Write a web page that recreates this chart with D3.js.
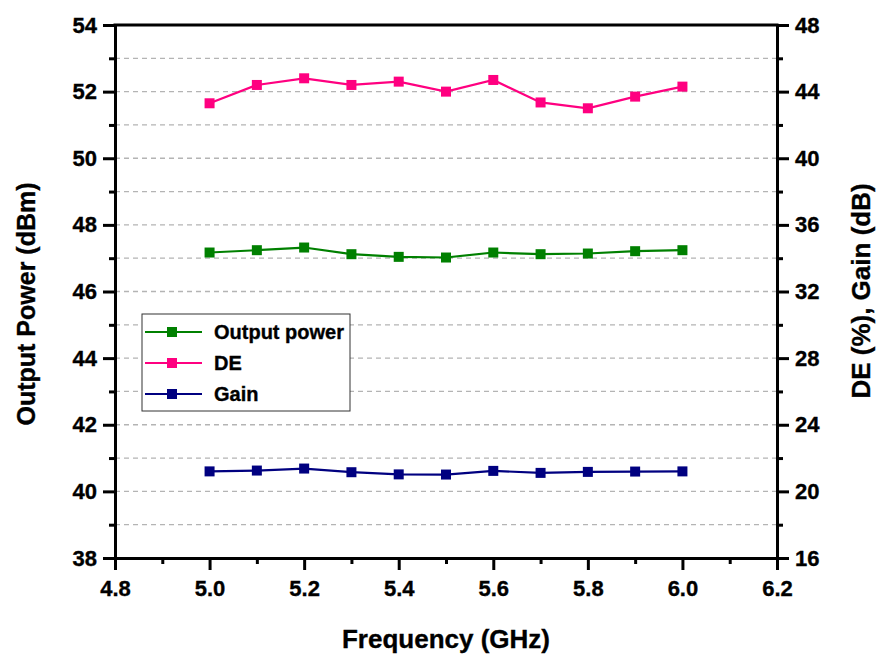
<!DOCTYPE html>
<html lang="en">
<head>
    <meta charset="UTF-8">
    <title>Output Power, DE and Gain vs. Frequency</title>
    <script src="https://d3js.org/d3.v7.min.js"></script>
    <style>
        body { margin: 0; background: white; }
        svg text { font-family: "Liberation Sans", Arial, sans-serif; font-weight: bold; fill: black; stroke: black; stroke-width: 0.35px; }
        .grid line { stroke: #b4b4b4; stroke-width: 1.3px; stroke-dasharray: 5,4; }
        .line { fill: none; stroke-width: 2.2px; }
    </style>
</head>
<body>
<svg id="chart" width="882" height="658"></svg>
<script type="text/javascript">
    var configuration = {
        "left": 115,
        "right": 777,
        "top": 25,
        "bottom": 558,
        "major_tick": 12,
        "minor_tick": 6,
        "marker_size": 10
    };

    // data
    var frequency = [5.0, 5.1, 5.2, 5.3, 5.4, 5.5, 5.6, 5.7, 5.8, 5.9, 6.0];
    var outputPower = [47.17, 47.24, 47.32, 47.12, 47.04, 47.02, 47.17, 47.12, 47.14, 47.21, 47.24];
    var drainEfficiency = [43.3, 44.4, 44.8, 44.4, 44.6, 44.0, 44.7, 43.35, 43.0, 43.7, 44.3];
    var gain = [21.2, 21.25, 21.37, 21.15, 21.02, 21.01, 21.23, 21.11, 21.17, 21.19, 21.2];

    var xTicks = [4.8, 5.0, 5.2, 5.4, 5.6, 5.8, 6.0, 6.2];
    var leftTicks = [38, 40, 42, 44, 46, 48, 50, 52, 54];
    var rightTicks = [16, 20, 24, 28, 32, 36, 40, 44, 48];

    var series = [
        {name: "Output power", values: outputPower, axis: "left", color: "#008000"},
        {name: "DE", values: drainEfficiency, axis: "right", color: "#ff0080"},
        {name: "Gain", values: gain, axis: "right", color: "#000080"}
    ];

    var svg = d3.select("#chart");
    var c = configuration;

    var xScale = d3.scaleLinear().domain([4.8, 6.2]).range([c.left, c.right]);
    var yLeft = d3.scaleLinear().domain([38, 54]).range([c.bottom, c.top]);
    var yRight = d3.scaleLinear().domain([16, 48]).range([c.bottom, c.top]);

    //grid lines at every unit of the left axis
    svg.append("g").attr("class", "grid")
        .selectAll("line")
        .data(d3.range(39, 54))
        .enter()
        .append("line")
        .attr("x1", c.left).attr("x2", c.right)
        .attr("y1", function(d){return yLeft(d);})
        .attr("y2", function(d){return yLeft(d);});

    //axes
    function styleAxis(g){
        g.select(".domain").attr("stroke", "black").attr("stroke-width", 3);
        g.selectAll(".tick line").attr("stroke", "black").attr("stroke-width", 3);
        g.selectAll(".tick text").style("font-size", "22px");
    }
    function minorTicks(scale, orient, values, pos){
        var axis = orient(scale).tickValues(values).tickSize(c.minor_tick).tickFormat("");
        svg.append("g").attr("transform", pos).call(axis)
            .call(function(g){
                g.select(".domain").remove();
                g.selectAll(".tick line").attr("stroke", "black").attr("stroke-width", 3);
            });
    }

    svg.append("g")
        .attr("transform", "translate(0," + c.bottom + ")")
        .call(d3.axisBottom(xScale).tickValues(xTicks).tickSize(c.major_tick).tickSizeOuter(0).tickPadding(10).tickFormat(d3.format(".1f")))
        .call(styleAxis);
    minorTicks(xScale, d3.axisBottom, [4.9, 5.1, 5.3, 5.5, 5.7, 5.9, 6.1], "translate(0," + c.bottom + ")");

    svg.append("g")
        .attr("transform", "translate(" + c.left + ",0)")
        .call(d3.axisLeft(yLeft).tickValues(leftTicks).tickSize(c.major_tick).tickSizeOuter(0).tickPadding(6))
        .call(styleAxis);
    minorTicks(yLeft, d3.axisLeft, d3.range(39, 54, 2), "translate(" + c.left + ",0)");

    svg.append("g")
        .attr("transform", "translate(" + c.right + ",0)")
        .call(d3.axisRight(yRight).tickValues(rightTicks).tickSize(c.major_tick).tickSizeOuter(0).tickPadding(6))
        .call(styleAxis);
    minorTicks(yRight, d3.axisRight, d3.range(18, 48, 4), "translate(" + c.right + ",0)");

    //top border
    svg.append("line")
        .attr("x1", c.left - 1.5).attr("x2", c.right + 1.5)
        .attr("y1", c.top).attr("y2", c.top)
        .attr("stroke", "black").attr("stroke-width", 3);

    //axis titles
    svg.append("text")
        .text("Frequency (GHz)")
        .attr("x", (c.left + c.right) / 2)
        .attr("y", 648)
        .attr("text-anchor", "middle")
        .style("font-size", "26px");

    svg.append("text")
        .text("Output Power (dBm)")
        .attr("text-anchor", "middle")
        .attr("transform", "translate(35,304) rotate(-90)")
        .style("font-size", "25px");

    svg.append("text")
        .text("DE (%), Gain (dB)")
        .attr("text-anchor", "middle")
        .attr("transform", "translate(870,291) rotate(-90)")
        .style("font-size", "26px");

    //lines and markers
    series.forEach(function(s){
        var yScale = s.axis == "left" ? yLeft : yRight;
        var pts = frequency.map(function(f, i){return {x: f, y: s.values[i]};});
        var lineShaper = d3.line()
            .x(function(d){return xScale(d.x);})
            .y(function(d){return yScale(d.y);});
        svg.append("path")
            .datum(pts)
            .attr("class", "line")
            .attr("d", lineShaper)
            .attr("stroke", s.color);
        svg.append("g").selectAll("rect")
            .data(pts)
            .enter()
            .append("rect")
            .attr("x", function(d){return xScale(d.x) - c.marker_size / 2;})
            .attr("y", function(d){return yScale(d.y) - c.marker_size / 2;})
            .attr("width", c.marker_size)
            .attr("height", c.marker_size)
            .attr("fill", s.color);
    });

    //legend
    var legend = svg.append("g").attr("transform", "translate(142,314)");
    legend.append("rect")
        .attr("width", 208).attr("height", 97)
        .attr("fill", "white")
        .attr("stroke", "#333").attr("stroke-width", 1);
    series.forEach(function(s, i){
        var row = legend.append("g").attr("transform", "translate(0," + (18 + i * 31) + ")");
        row.append("line")
            .attr("x1", 3).attr("x2", 60)
            .attr("stroke", s.color).attr("stroke-width", 2.2);
        row.append("rect")
            .attr("x", 30 - c.marker_size / 2).attr("y", -c.marker_size / 2)
            .attr("width", c.marker_size).attr("height", c.marker_size)
            .attr("fill", s.color);
        row.append("text")
            .text(s.name)
            .attr("x", 72)
            .attr("dy", "0.36em")
            .style("font-size", "20px");
    });
</script>
</body>
</html>
